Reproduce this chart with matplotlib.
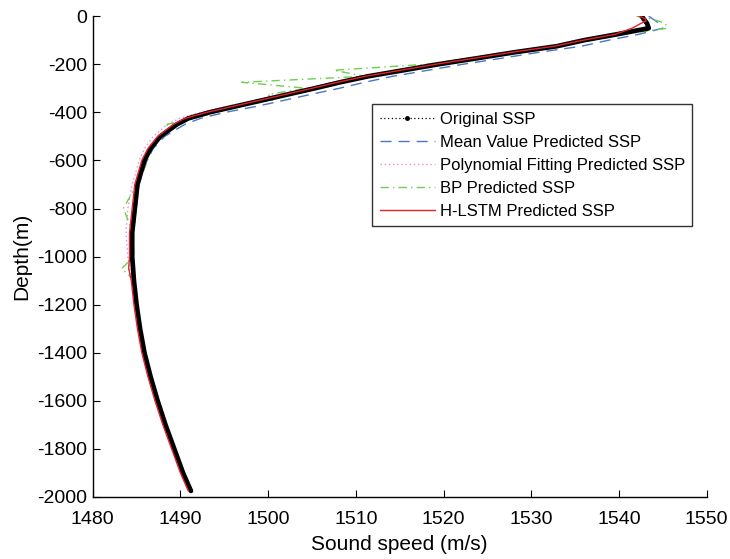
import matplotlib
matplotlib.use("Agg")
import matplotlib.pyplot as plt
from matplotlib.lines import Line2D
import numpy as np

plt.rcParams['font.family'] = ['Liberation Sans', 'DejaVu Sans']
plt.rcParams['axes.unicode_minus'] = False

# depth (m, positive down)
depth = [0, 10, 20, 30, 50, 75, 100, 125, 150, 175, 200, 225, 250, 275, 300,
         325, 350, 375, 400, 425, 450, 500, 550, 600, 700, 800, 900, 1000,
         1050, 1100, 1200, 1300, 1400, 1500, 1600, 1700, 1800, 1900, 1975]

original = [1542.6, 1542.8, 1543.0, 1543.2, 1543.4, 1539.8, 1536.0, 1532.9,
            1528.1, 1523.8, 1519.4, 1515.4, 1511.4, 1508.2, 1505.3, 1502.3,
            1499.3, 1496.3, 1493.3, 1490.9, 1489.6, 1487.7, 1486.6, 1485.9,
            1485.1, 1484.8, 1484.5, 1484.5, 1484.6, 1484.7, 1485.0, 1485.4,
            1485.9, 1486.6, 1487.4, 1488.3, 1489.3, 1490.3, 1491.2]

mean_pred = [1543.4, 1543.8, 1544.2, 1544.6, 1545.0, 1542.3, 1538.8, 1535.7,
             1530.9, 1526.6, 1522.2, 1518.2, 1514.2, 1511.0, 1508.1, 1504.9,
             1501.8, 1498.7, 1495.1, 1492.3, 1490.5, 1488.2, 1486.9, 1486.2,
             1485.25, 1484.95, 1484.65, 1484.6, 1484.7, 1484.8, 1485.1, 1485.5,
             1486.0, 1486.7, 1487.5, 1488.4, 1489.4, 1490.4, 1491.3]

poly_pred = [1542.3, 1542.5, 1542.7, 1543.0, 1543.3, 1539.0, 1535.2, 1532.0,
             1527.2, 1523.0, 1518.6, 1514.6, 1510.6, 1507.3, 1504.4, 1501.4,
             1498.4, 1495.4, 1492.4, 1489.9, 1488.5, 1486.9, 1485.9, 1485.3,
             1484.5, 1484.0, 1483.8, 1484.0, 1484.2, 1484.5, 1484.8, 1485.2,
             1485.7, 1486.4, 1487.2, 1488.1, 1489.1, 1490.1, 1491.0]

bp_pred = [1542.0, 1543.5, 1544.5, 1545.3, 1545.5, 1540.5, 1537.0, 1532.0,
           1529.0, 1523.0, 1518.0, 1507.5, 1511.0, 1497.0, 1504.5, 1500.0,
           1500.5, 1496.0, 1494.0, 1491.5, 1488.5, 1488.0, 1486.4, 1486.3,
           1485.0, 1483.5, 1484.6, 1484.7, 1483.3, 1484.8, 1485.1, 1485.5,
           1486.0, 1486.7, 1487.5, 1488.4, 1489.4, 1490.4, 1491.3]

hlstm_pred = [1542.3, 1543.0, 1543.1, 1542.5, 1541.5, 1539.6, 1535.9, 1532.6,
              1527.8, 1523.5, 1519.1, 1515.1, 1511.1, 1507.9, 1505.0, 1502.0,
              1499.0, 1496.0, 1493.0, 1490.5, 1489.2, 1487.4, 1486.3, 1485.6,
              1484.8, 1484.5, 1484.2, 1484.2, 1484.1, 1484.4, 1484.7, 1485.1,
              1485.6, 1486.3, 1487.1, 1488.0, 1489.0, 1490.0, 1490.9]

xticks = [1480, 1490, 1500, 1510, 1520, 1530, 1540, 1550]
yticks = [0, -200, -400, -600, -800, -1000, -1200, -1400, -1600, -1800, -2000]

c_black = 'black'
c_blue = '#4a76c4'
c_pink = '#e38de0'
c_green = '#6fcf4f'
c_red = '#e8202a'

fig = plt.figure(figsize=(7.30, 5.59), dpi=100)
ax = fig.add_axes([0.127, 0.111, 0.841, 0.860])

z = -np.array(depth)
ax.plot(mean_pred, z, color=c_blue, lw=1.0, ls=(0, (8, 5)))
ax.plot(poly_pred, z, color=c_pink, lw=1.0, ls=(0, (1, 2)))
ax.plot(bp_pred, z, color=c_green, lw=1.0, ls=(0, (6, 3, 1, 3)))
ax.plot(original, z, color=c_black, lw=3.4, solid_joinstyle='round',
        solid_capstyle='round')
ax.plot(hlstm_pred, z, color=c_red, lw=1.0)

ax.set_xlim(1480, 1550)
ax.set_ylim(-2000, 0)
ax.set_xticks(xticks)
ax.set_yticks(yticks)
ax.tick_params(direction='in', length=5, width=0.8, labelsize=14)
ax.tick_params(axis='x', pad=10)
ax.tick_params(axis='y', pad=4)
for s in ['top', 'right']:
    ax.spines[s].set_visible(False)
for s in ['left', 'bottom']:
    ax.spines[s].set_linewidth(1.0)
ax.set_xlabel('Sound speed (m/s)', fontsize=15, labelpad=5)
ax.set_ylabel('Depth(m)', fontsize=15, labelpad=4)

handles = [
    Line2D([], [], color=c_black, lw=0.9, ls=(0, (1, 2)), marker='.', markersize=5),
    Line2D([], [], color=c_blue, lw=1.0, ls=(0, (8, 5))),
    Line2D([], [], color=c_pink, lw=1.0, ls=(0, (1, 2))),
    Line2D([], [], color=c_green, lw=1.0, ls=(0, (6, 3, 1, 3))),
    Line2D([], [], color=c_red, lw=1.0),
]
labels = ['Original SSP', 'Mean Value Predicted SSP',
          'Polynomial Fitting Predicted SSP', 'BP Predicted SSP',
          'H-LSTM Predicted SSP']
leg = ax.legend(handles, labels, loc='upper left', bbox_to_anchor=(0.455, 0.817),
                fontsize=12, frameon=True, fancybox=False, edgecolor='#333333',
                framealpha=1, handlelength=3.3, handletextpad=0.3,
                labelspacing=0.48, borderpad=0.45, borderaxespad=0, numpoints=1)
leg.get_frame().set_linewidth(1.0)

fig.savefig('out.png', dpi=100)
